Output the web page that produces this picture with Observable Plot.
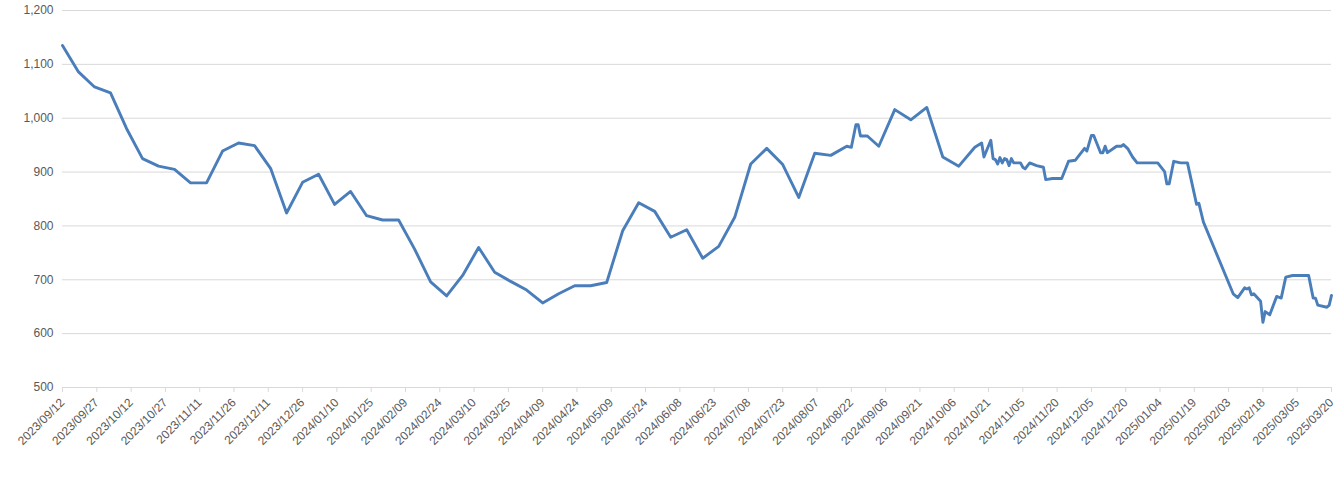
<!DOCTYPE html>
<html><head><meta charset="utf-8">
<script src="https://cdn.jsdelivr.net/npm/d3@7"></script>
<script src="https://cdn.jsdelivr.net/npm/@observablehq/plot@0.6"></script>
<style>html,body{margin:0;padding:0;background:#fff;}</style>
</head><body><div id="chart"></div>
<script>
const dates = [
"2023/09/12","2023/09/19","2023/09/26","2023/10/03","2023/10/10","2023/10/17","2023/10/24","2023/10/31",
"2023/11/07","2023/11/14","2023/11/21","2023/11/28","2023/12/05","2023/12/12","2023/12/19","2023/12/26",
"2024/01/02","2024/01/09","2024/01/16","2024/01/23","2024/01/30","2024/02/06","2024/02/13","2024/02/20",
"2024/02/27","2024/03/05","2024/03/12","2024/03/19","2024/03/26","2024/04/02","2024/04/09","2024/04/16",
"2024/04/23","2024/04/30","2024/05/07","2024/05/14","2024/05/21","2024/05/28","2024/06/04","2024/06/11",
"2024/06/18","2024/06/25","2024/07/02","2024/07/09","2024/07/16","2024/07/23","2024/07/30","2024/08/06",
"2024/08/13","2024/08/20","2024/08/22","2024/08/24","2024/08/25","2024/08/26","2024/08/29","2024/09/03",
"2024/09/10","2024/09/17","2024/09/24","2024/10/01","2024/10/08","2024/10/15","2024/10/18","2024/10/19",
"2024/10/22","2024/10/23","2024/10/24","2024/10/25","2024/10/26","2024/10/27","2024/10/28","2024/10/29",
"2024/10/30","2024/10/31","2024/11/01","2024/11/04","2024/11/05","2024/11/06","2024/11/08","2024/11/11",
"2024/11/14","2024/11/15","2024/11/18","2024/11/22","2024/11/25","2024/11/28","2024/12/02","2024/12/03",
"2024/12/05","2024/12/06","2024/12/09","2024/12/10","2024/12/11","2024/12/12","2024/12/16","2024/12/18",
"2024/12/19","2024/12/21","2024/12/23","2024/12/25","2025/01/03","2025/01/06","2025/01/07","2025/01/08",
"2025/01/10","2025/01/13","2025/01/16","2025/01/20","2025/01/21","2025/01/23","2025/02/05","2025/02/07",
"2025/02/10","2025/02/11","2025/02/12","2025/02/13","2025/02/14","2025/02/17","2025/02/18","2025/02/19",
"2025/02/21","2025/02/24","2025/02/26","2025/02/28","2025/03/03","2025/03/10","2025/03/12","2025/03/13",
"2025/03/14","2025/03/18","2025/03/19","2025/03/20"
];
const values = [
1135,1086,1058,1047,981,925,911,905,
880,880,939,954,949,907,824,881,
896,840,864,819,811,811,757,696,
670,708,760,714,697,681,657,674,
689,689,695,791,843,827,779,793,
740,762,816,915,944,914,853,935,
931,948,946,988,988,967,967,948,
1016,997,1020,928,911,946,954,928,
959,925,923,915,927,917,925,923,
912,925,917,917,909,906,917,912,
909,886,888,888,920,922,944,939,
968,968,936,936,948,936,948,948,
951,943,928,917,917,901,878,878,
920,917,917,840,842,807,674,667,
685,683,685,672,674,660,621,641,
635,669,666,705,708,708,666,666,
653,649,653,671
];
const xTickLabels = [
"2023/09/12","2023/09/27","2023/10/12","2023/10/27","2023/11/11","2023/11/26","2023/12/11","2023/12/26",
"2024/01/10","2024/01/25","2024/02/09","2024/02/24","2024/03/10","2024/03/25","2024/04/09","2024/04/24",
"2024/05/09","2024/05/24","2024/06/08","2024/06/23","2024/07/08","2024/07/23","2024/08/07","2024/08/22",
"2024/09/06","2024/09/21","2024/10/06","2024/10/21","2024/11/05","2024/11/20","2024/12/05","2024/12/20",
"2025/01/04","2025/01/19","2025/02/03","2025/02/18","2025/03/05","2025/03/20"
];
const yTicks = [500,600,700,800,900,1000,1100,1200];

const parse = d3.utcParse("%Y/%m/%d");
const fmt = d3.utcFormat("%Y/%m/%d");
const data = dates.map((d, i) => ({date: parse(d), value: values[i]}));
const xTicks = xTickLabels.map(parse);

const chart = Plot.plot({
  width: 1342, height: 478,
  marginLeft: 62, marginRight: 11, marginTop: 10, marginBottom: 91,
  style: {fontFamily: "'Liberation Sans', Arial, sans-serif", fontSize: "12px", color: "#595959", background: "#fff"},
  x: {type: "utc", domain: [xTicks[0], xTicks[xTicks.length - 1]]},
  y: {domain: [500, 1200]},
  marks: [
    Plot.gridY(yTicks, {stroke: "#d9d9d9", strokeOpacity: 1, strokeWidth: 1}),
    Plot.axisY(yTicks, {tickSize: 0, tickPadding: 9, tickFormat: d3.format(","), fill: "#595959", label: null}),
    Plot.ruleY([500], {stroke: "#d9d9d9", strokeWidth: 1}),
    Plot.axisX(xTicks, {tickSize: 5, stroke: "#d9d9d9", strokeOpacity: 1, tickFormat: () => "", label: null}),
    Plot.axisX(xTicks, {tickSize: 0, tickPadding: 13, tickRotate: -45, tickFormat: fmt, fill: "#595959", label: null}),
    Plot.line(data, {x: "date", y: "value", stroke: "#4a7ebb", strokeWidth: 2.9, strokeLinejoin: "round"})
  ]
});
document.getElementById("chart").appendChild(chart);
</script>
</body></html>
